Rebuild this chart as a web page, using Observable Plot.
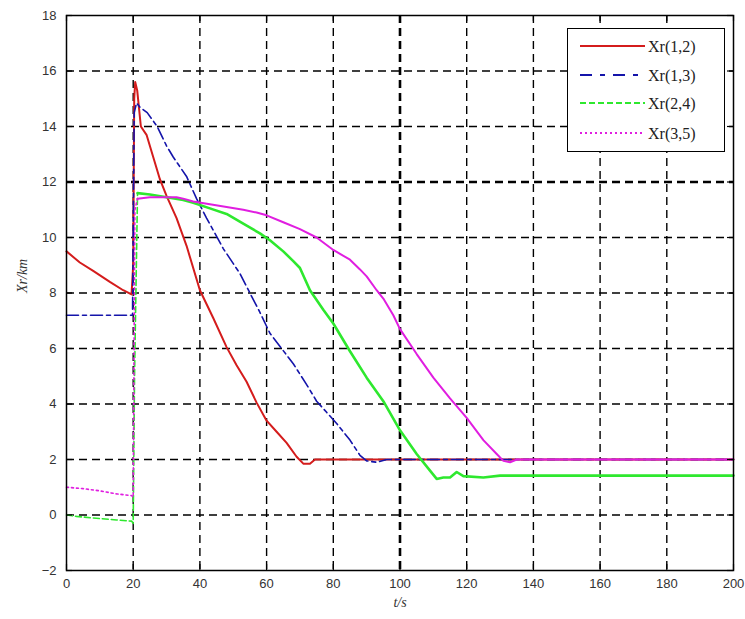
<!DOCTYPE html>
<html>
<head>
<meta charset="utf-8">
<script src="https://cdn.jsdelivr.net/npm/d3@7"></script>
<script src="https://cdn.jsdelivr.net/npm/@observablehq/plot@0.6"></script>
<style>
  html, body { margin: 0; padding: 0; background: white; }
  #wrap { position: relative; width: 745px; height: 619px; }
  #legend { position: absolute; left: 567px; top: 28px; width: 158px; height: 124px; box-sizing: border-box; border: 1.5px solid #000; background: #fff; }
</style>
</head>
<body>
<div id="wrap"></div>
<script>
// ---- data ----
const xTicks = [0, 20, 40, 60, 80, 100, 120, 140, 160, 180, 200];
const yTicks = [-2, 0, 2, 4, 6, 8, 10, 12, 14, 16, 18];

const seriesNames = ["Xr(1,2)", "Xr(1,3)", "Xr(2,4)", "Xr(3,5)"];
const seriesColors = ["#d41c1c", "#1414aa", "#2ee82e", "#e01ee0"];

const t12 = [0, 4, 8, 13, 17, 19.5, 20, 20.3, 20.6, 21.2, 22.3, 24, 26, 28, 30, 33, 36, 40, 44, 48, 51, 54, 57, 60, 63, 66, 69, 71, 73, 74.5, 200];
const x12 = [9.5, 9.1, 8.8, 8.4, 8.1, 7.95, 9.0, 15.0, 15.6, 15.3, 14.0, 13.7, 12.9, 12.1, 11.5, 10.7, 9.7, 8.1, 7.1, 6.05, 5.4, 4.8, 4.05, 3.4, 3.0, 2.6, 2.1, 1.85, 1.85, 2.0, 2.0];

const t13 = [0, 19.8, 20.3, 21, 22, 24.2, 27.2, 30, 32, 36, 39, 42, 47, 52, 55, 58, 61, 64.5, 68, 72, 75, 78, 81, 85, 88, 90, 93, 96, 200];
const x13 = [7.2, 7.2, 14.5, 14.85, 14.7, 14.5, 14.0, 13.3, 12.9, 12.2, 11.4, 10.7, 9.6, 8.7, 8.0, 7.3, 6.55, 6.0, 5.45, 4.7, 4.1, 3.7, 3.3, 2.7, 2.15, 1.95, 1.9, 2.0, 2.0];

const t24 = [0, 3, 10, 15, 19.5, 20, 20.4, 21.3, 25, 30, 35, 38, 43, 48, 53, 58, 61, 65, 68, 70, 73, 77, 80, 85, 90, 95, 100, 105, 109, 111, 113, 115, 117, 119, 125, 130, 200];
const x24 = [0.0, -0.05, -0.13, -0.18, -0.22, -0.3, 5.0, 11.6, 11.55, 11.45, 11.35, 11.25, 11.05, 10.85, 10.5, 10.15, 9.9, 9.5, 9.15, 8.9, 8.1, 7.4, 6.9, 5.9, 4.95, 4.1, 3.05, 2.2, 1.6, 1.3, 1.35, 1.35, 1.55, 1.4, 1.35, 1.42, 1.42];

const t35 = [0, 5, 10, 15, 19.5, 20, 20.5, 21.3, 25, 30, 33, 35, 38, 43, 48, 53, 57, 60, 65, 70, 75, 80, 85, 88, 90, 93, 95, 98, 100, 105, 110, 115, 120, 125, 129, 131, 133, 135, 200];
const x35 = [1.0, 0.95, 0.87, 0.76, 0.7, 0.65, 11.0, 11.4, 11.45, 11.45, 11.45, 11.4, 11.3, 11.2, 11.1, 11.0, 10.9, 10.8, 10.55, 10.3, 10.0, 9.55, 9.2, 8.85, 8.6, 8.1, 7.8, 7.2, 6.7, 5.8, 4.95, 4.2, 3.5, 2.7, 2.2, 1.95, 1.9, 2.0, 2.0];

// ---- build tables ----
const toRows = (ts, xs) => ts.map((t, i) => ({t, v: xs[i]}));
const s12 = toRows(t12, x12);
const s13 = toRows(t13, x13);
const s24 = toRows(t24, x24);
const s35 = toRows(t35, x35);
const s24a = s24.filter(d => d.t <= 21.3), s24b = s24.filter(d => d.t >= 21.3);
const s35a = s35.filter(d => d.t <= 21.3), s35b = s35.filter(d => d.t >= 21.3);

const frameW = 745 - 66 - 12, frameH = 619 - 15 - 49;

const chart = Plot.plot({
  width: 745, height: 619,
  marginLeft: 66, marginRight: 12, marginTop: 15, marginBottom: 49,
  style: {fontFamily: "'Liberation Sans', Arial, sans-serif", fontSize: "13px", color: "#333", background: "white"},
  x: {domain: [0, 200], label: null},
  y: {domain: [-2, 18], label: null},
  marks: [
    // dashed grid
    Plot.ruleX(xTicks.filter(d => d > 0 && d < 200), {x: d => d, stroke: "#000", strokeOpacity: 1, strokeDasharray: "8,5", strokeWidth: d => d === 100 ? 2.6 : 1.4}),
    Plot.ruleY(yTicks.filter(d => d > -2 && d < 18), {y: d => d, stroke: "#000", strokeOpacity: 1, strokeDasharray: "8,5", strokeWidth: d => d === 12 ? 2.6 : 1.4}),
    // series
    Plot.line(s12, {x: "t", y: "v", stroke: seriesColors[0], strokeWidth: 2}),
    Plot.line(s13, {x: "t", y: "v", stroke: seriesColors[1], strokeWidth: 1.6, strokeDasharray: "12,4,4,4"}),
    Plot.line(s24a, {x: "t", y: "v", stroke: seriesColors[2], strokeWidth: 1.6, strokeDasharray: "6,3"}),
    Plot.line(s24b, {x: "t", y: "v", stroke: seriesColors[2], strokeWidth: 2.6}),
    Plot.line(s35a, {x: "t", y: "v", stroke: seriesColors[3], strokeWidth: 1.6, strokeDasharray: "2,3"}),
    Plot.line(s35b, {x: "t", y: "v", stroke: seriesColors[3], strokeWidth: 2}),
    // inward ticks on all four sides
    Plot.tickX(xTicks, {x: d => d, insetTop: frameH - 6, stroke: "#000", strokeWidth: 1.2}),
    Plot.tickX(xTicks, {x: d => d, insetBottom: frameH - 6, stroke: "#000", strokeWidth: 1.2}),
    Plot.tickY(yTicks, {y: d => d, insetRight: frameW - 6, stroke: "#000", strokeWidth: 1.2}),
    Plot.tickY(yTicks, {y: d => d, insetLeft: frameW - 6, stroke: "#000", strokeWidth: 1.2}),
    Plot.frame({stroke: "#000", strokeWidth: 1.5}),
    // tick labels
    Plot.axisX({ticks: xTicks, tickSize: 0, tickPadding: 8, label: null, fontSize: 13}),
    Plot.axisY({ticks: yTicks, tickSize: 0, tickPadding: 10, label: null, fontSize: 13}),
    // axis titles
    Plot.text(["t/s"], {frameAnchor: "bottom", dy: 36, text: d => d, fontStyle: "italic", fontFamily: "'Liberation Serif', serif", fontSize: 14, fill: "#333"}),
    Plot.text(["Xr/km"], {frameAnchor: "left", dx: -44, rotate: -90, text: d => d, fontStyle: "italic", fontFamily: "'Liberation Serif', serif", fontSize: 14, fill: "#333"})
  ]
});

const wrap = document.getElementById("wrap");
wrap.appendChild(chart);

// ---- legend (inside plot area, upper right) ----
const legend = document.createElement("div");
legend.id = "legend";
const dashes = [null, "12,8,5,8", "6,3", "2,3"];
const rowsY = [17, 46, 74, 104];
let svg = '<svg width="155" height="121" xmlns="http://www.w3.org/2000/svg">';
seriesNames.forEach((name, i) => {
  const y = rowsY[i];
  svg += `<line x1="12" x2="77" y1="${y}" y2="${y}" stroke="${seriesColors[i]}" stroke-width="1.8"${dashes[i] ? ` stroke-dasharray="${dashes[i]}"` : ""}/>`;
  svg += `<text x="80" y="${y}" dy="0.35em" font-family="'Liberation Serif', serif" font-size="16" fill="#222">${name}</text>`;
});
svg += "</svg>";
legend.innerHTML = svg;
wrap.appendChild(legend);
</script>
</body>
</html>
